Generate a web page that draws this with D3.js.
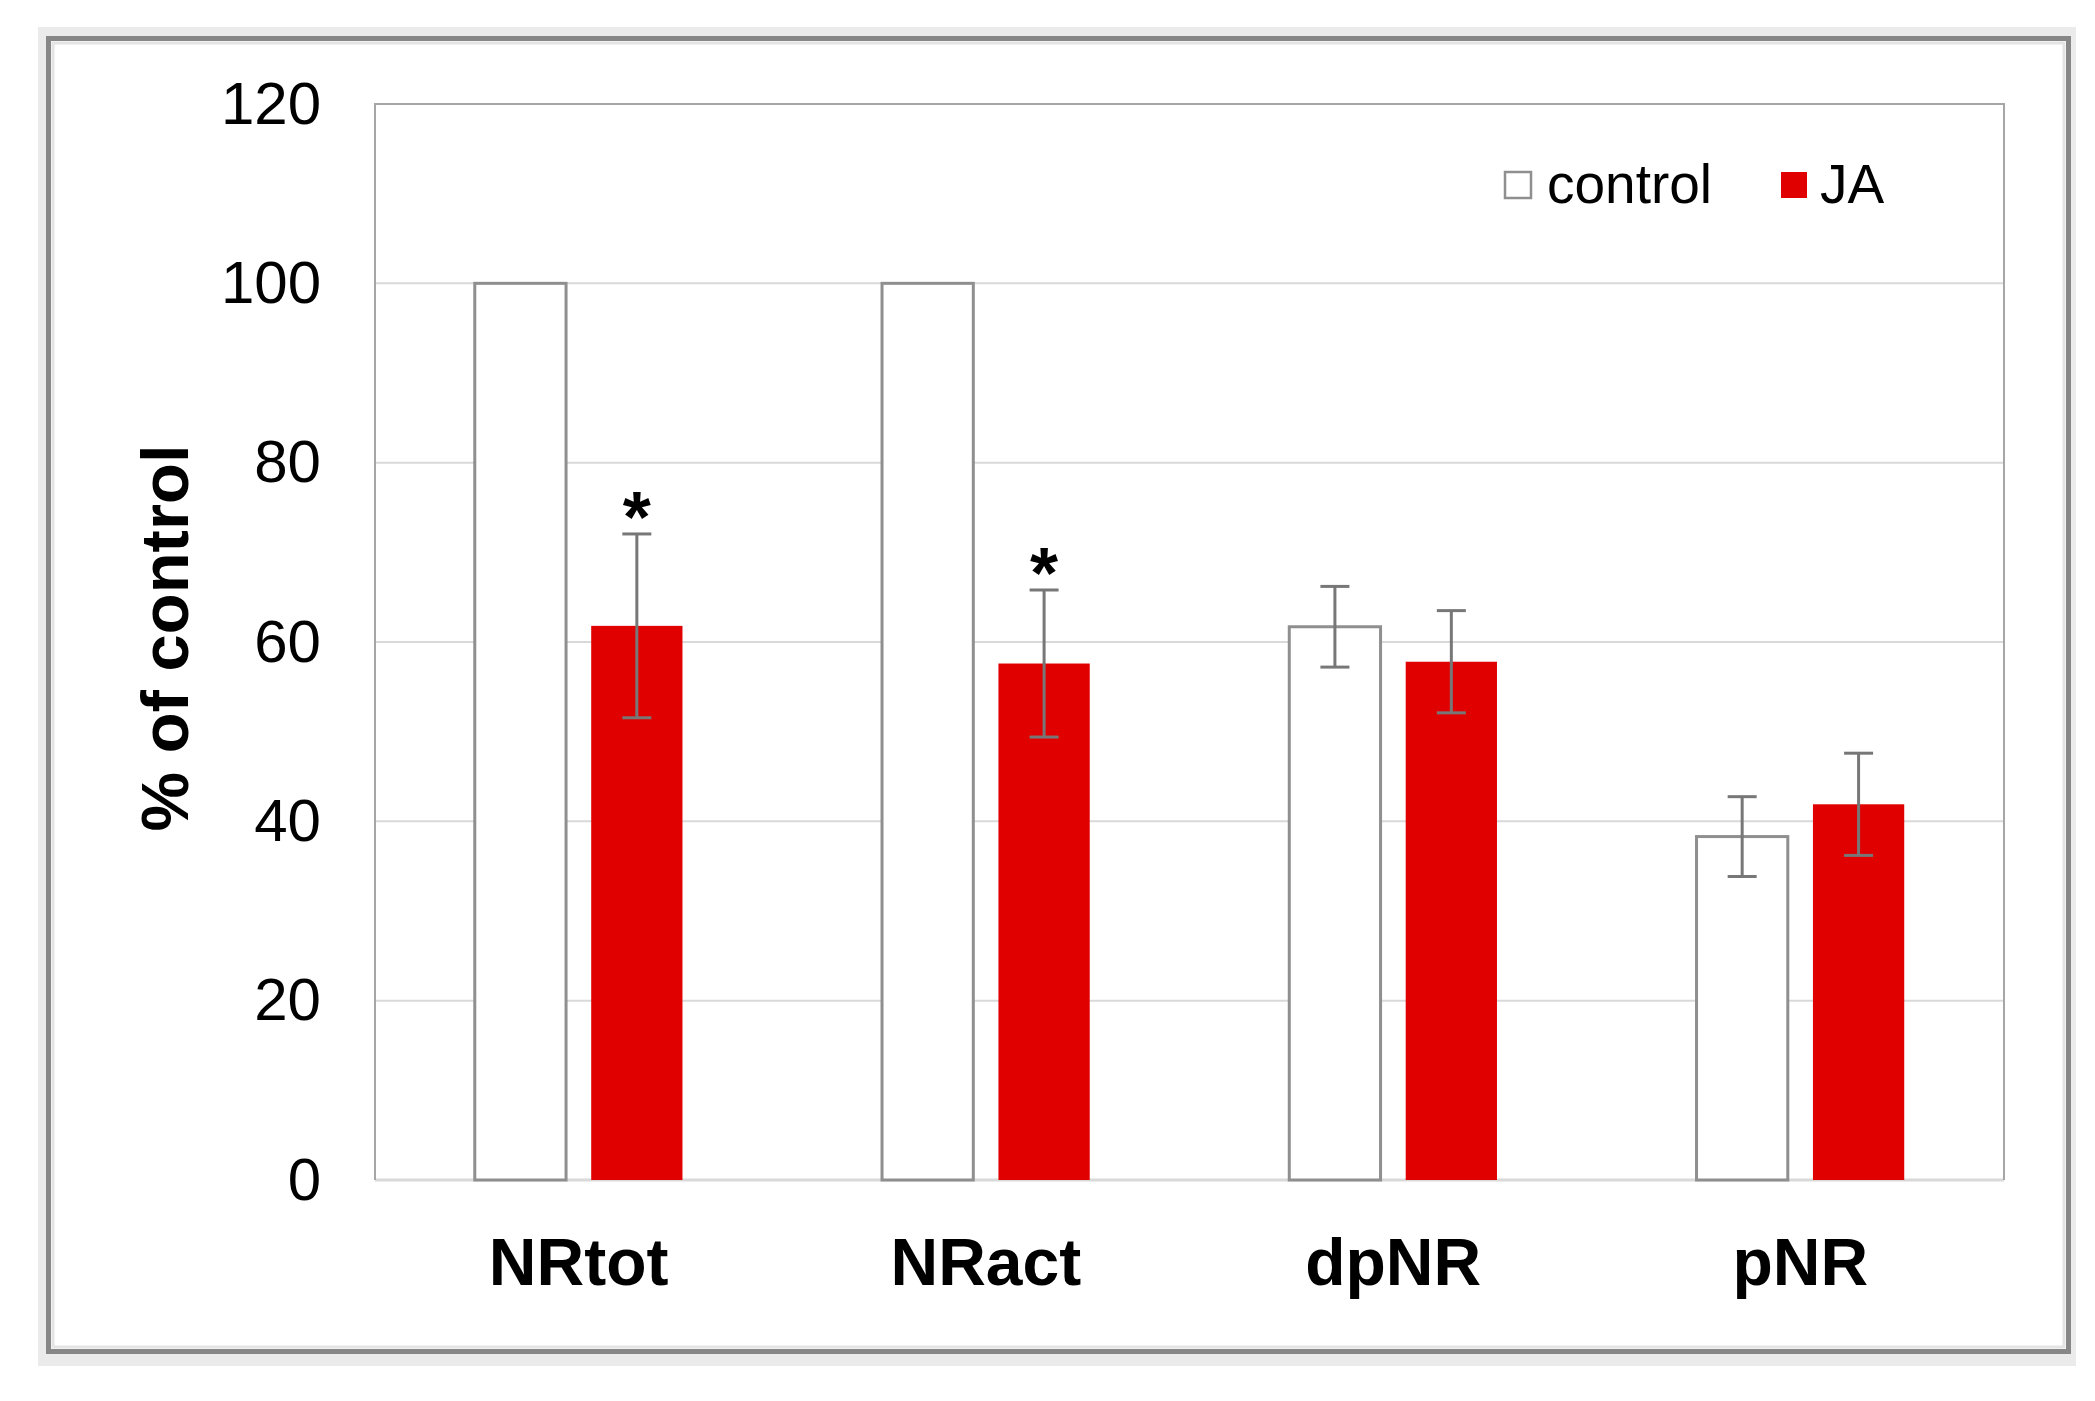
<!DOCTYPE html>
<html>
<head>
<meta charset="utf-8">
<script src="https://cdn.jsdelivr.net/npm/d3@7"></script>
<style>
    body { margin: 0; background: #fff; }
    text { font-family: "Liberation Sans", Arial, sans-serif; fill: #000; }
</style>
</head>
<body>
<svg id="chart" width="2095" height="1401"></svg>
<script>
// values
const categories = ['NRtot', 'NRact', 'dpNR', 'pNR'];
const series = ['control', 'JA'];
const controlValues = [100, 100, 61.7, 38.3];
const controlErrors = [0, 0, 4.5, 4.45];
const jaValues = [61.8, 57.6, 57.8, 41.9];
const jaErrors = [10.25, 8.2, 5.7, 5.7];
const significant = [true, true, false, false];
const yTicks = [0, 20, 40, 60, 80, 100, 120];

const colors = { control: '#ffffff', JA: '#e00000' };

const svg = d3.select('#chart');
const plot = { left: 375, right: 2004, top: 104, bottom: 1180 };

// frame around the figure
svg.append('rect')
    .attr('x', 38).attr('y', 27)
    .attr('width', 2038).attr('height', 1339)
    .attr('fill', '#ebebeb');
svg.append('rect')
    .attr('x', 48.5).attr('y', 38.5)
    .attr('width', 2020).attr('height', 1313)
    .attr('fill', '#ffffff')
    .attr('stroke', '#878787')
    .attr('stroke-width', 5);
svg.append('rect')
    .attr('x', 53).attr('y', 43)
    .attr('width', 2011).attr('height', 1304)
    .attr('fill', 'none')
    .attr('stroke', '#e4e4e4')
    .attr('stroke-width', 3);

const x = d3.scaleBand()
    .domain(categories)
    .range([plot.left, plot.right]);

const y = d3.scaleLinear()
    .domain([0, 120])
    .range([plot.bottom, plot.top]);

const groupWidth = x.bandwidth() * 0.51;
const inner = d3.scaleBand()
    .domain(series)
    .range([-groupWidth / 2, groupWidth / 2])
    .paddingInner(0.216);

// gridlines (zero line included)
svg.append('g')
    .selectAll('line')
    .data(yTicks.filter(t => t < 120))
    .join('line')
    .attr('x1', plot.left).attr('x2', plot.right)
    .attr('y1', d => y(d)).attr('y2', d => y(d))
    .attr('stroke', '#d9d9d9')
    .attr('stroke-width', d => d === 0 ? 3 : 2);

// plot area border
svg.append('path')
    .attr('d', `M${plot.left},${plot.bottom}V${plot.top}H${plot.right}V${plot.bottom}`)
    .attr('fill', 'none')
    .attr('stroke', '#a6a6a6')
    .attr('stroke-width', 2);

// y axis labels
const yAxis = svg.append('g')
    .attr('transform', `translate(${plot.left},0)`)
    .call(d3.axisLeft(y).tickValues(yTicks).tickSize(0).tickPadding(54));
yAxis.select('.domain').remove();
yAxis.selectAll('text')
    .style('font-family', '"Liberation Sans", Arial, sans-serif')
    .style('font-size', '60px')
    .attr('fill', '#000');

// x axis labels
const xAxis = svg.append('g')
    .attr('transform', `translate(0,${plot.bottom})`)
    .call(d3.axisBottom(x).tickSize(0).tickPadding(0));
xAxis.select('.domain').remove();
xAxis.selectAll('text')
    .attr('dy', null)
    .attr('y', 105)
    .style('font-family', '"Liberation Sans", Arial, sans-serif')
    .style('font-size', '66px')
    .style('font-weight', 'bold')
    .attr('fill', '#000');

const rows = categories.map((c, i) => ({
    category: c,
    bars: [
        { key: 'control', value: controlValues[i], err: controlErrors[i] },
        { key: 'JA', value: jaValues[i], err: jaErrors[i] }
    ],
    star: significant[i]
}));

const groups = svg.append('g')
    .selectAll('g')
    .data(rows)
    .join('g')
    .attr('transform', d => `translate(${x(d.category) + x.bandwidth() / 2},0)`);

groups.selectAll('rect')
    .data(d => d.bars)
    .join('rect')
    .attr('x', d => inner(d.key))
    .attr('y', d => y(d.value))
    .attr('width', inner.bandwidth())
    .attr('height', d => y(0) - y(d.value))
    .attr('fill', d => colors[d.key])
    .attr('stroke', d => d.key === 'control' ? '#8f8f8f' : 'none')
    .attr('stroke-width', 3);

// error bars
const errs = groups.selectAll('g.err')
    .data(d => d.bars.filter(b => b.err > 0))
    .join('g')
    .attr('class', 'err')
    .attr('stroke', '#777')
    .attr('stroke-width', 3);
errs.append('line')
    .attr('x1', d => inner(d.key) + inner.bandwidth() / 2)
    .attr('x2', d => inner(d.key) + inner.bandwidth() / 2)
    .attr('y1', d => y(d.value + d.err))
    .attr('y2', d => y(d.value - d.err));
[1, -1].forEach(s => {
    errs.append('line')
        .attr('x1', d => inner(d.key) + inner.bandwidth() / 2 - 14.5)
        .attr('x2', d => inner(d.key) + inner.bandwidth() / 2 + 14.5)
        .attr('y1', d => y(d.value + s * d.err))
        .attr('y2', d => y(d.value + s * d.err));
});

// significance marks
groups.filter(d => d.star)
    .append('text')
    .attr('x', inner('JA') + inner.bandwidth() / 2)
    .attr('y', d => y(d.bars[1].value + d.bars[1].err) + 8)
    .attr('text-anchor', 'middle')
    .style('font-size', '72px')
    .style('font-weight', 'bold')
    .text('*');

// y axis title
svg.append('text')
    .attr('transform', 'translate(188,638) rotate(-90)')
    .attr('text-anchor', 'middle')
    .style('font-size', '67px')
    .style('font-weight', 'bold')
    .text('% of control');

// legend
const legend = svg.append('g');
const legendItems = [
    { key: 'control', sx: 1504, tx: 1547 },
    { key: 'JA', sx: 1780, tx: 1820 }
];
legend.selectAll('rect')
    .data(legendItems)
    .join('rect')
    .attr('x', d => d.sx + 1)
    .attr('y', 172)
    .attr('width', 26)
    .attr('height', 26)
    .attr('fill', d => colors[d.key])
    .attr('stroke', d => d.key === 'control' ? '#8f8f8f' : 'none')
    .attr('stroke-width', 2.5);
legend.selectAll('text')
    .data(legendItems)
    .join('text')
    .attr('x', d => d.tx)
    .attr('y', 203)
    .style('font-size', '55px')
    .text(d => d.key);
</script>
</body>
</html>
